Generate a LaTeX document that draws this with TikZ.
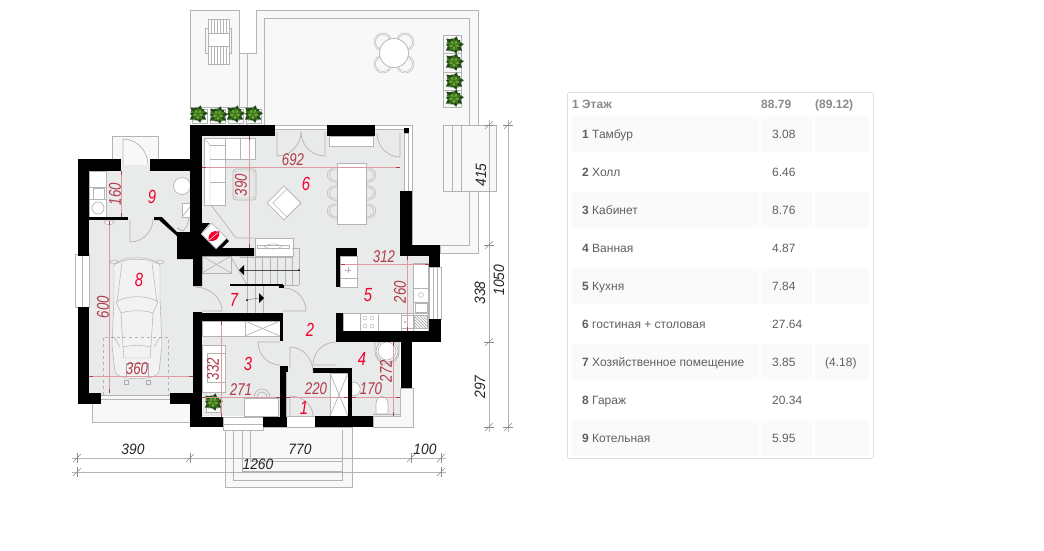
\documentclass[tikz,border=0pt]{standalone}
\usepackage{fontspec}
\setmainfont{Liberation Sans}
\newfontfamily\dimfont[FakeStretch=0.78]{Liberation Sans}
\newfontfamily\outerfont[FakeStretch=0.92]{Liberation Sans}
\usetikzlibrary{calc}
\definecolor{floorgray}{HTML}{E9EAEA}
\definecolor{terrace}{HTML}{F8F8F8}
\definecolor{linegray}{HTML}{B4B4B4}
\definecolor{dimred}{HTML}{DC9AA3}
\definecolor{dimtext}{HTML}{B23A4A}
\definecolor{roomred}{HTML}{F0002D}
\definecolor{tabletext}{HTML}{606060}
\definecolor{headtext}{HTML}{8A8A8A}
\definecolor{rowgray}{HTML}{FAFAFA}
\definecolor{leafdark}{HTML}{22491A}
\definecolor{leafmid}{HTML}{3F7420}
\definecolor{leaflight}{HTML}{6BA32F}
\tikzset{
  plan/.style={linegray, line width=0.7pt},
  thin plan/.style={linegray, line width=0.45pt},
  carline/.style={draw=black!32, line width=0.45pt},
  wall/.style={fill=black, draw=none},
  dim/.style={dimred, line width=0.6pt},
  dimtick/.style={dimtext, line width=1pt},
  dimlabel/.style={text=dimtext, font=\dimfont\fontsize{17}{17}\selectfont\itshape, inner sep=0pt},
  outerlabel/.style={text=black!85, font=\outerfont\fontsize{15}{15}\selectfont\itshape, inner sep=0pt},
  roomlabel/.style={text=roomred, font=\dimfont\fontsize{19}{19}\selectfont\itshape, inner sep=0pt},
  cell/.style={text=tabletext, font=\fontsize{12}{12}\selectfont, inner sep=0pt, anchor=base west},
  headcell/.style={text=headtext, font=\fontsize{12}{12}\selectfont\bfseries, inner sep=0pt, anchor=base west},
}
\newcommand{\doorpic}[4]{\draw[plan] (#1) -- (#2) .. controls ($(#2)!.55!(#3)$) and ($(#4)!.55!(#3)$) .. (#4);}
\newcommand{\dimpic}[2]{
  \draw[dim] (#1) -- (#2);
  \draw[dimtick] (#1) -- ($(#1)!4pt!(#2)$);
  \draw[dimtick] (#2) -- ($(#2)!4pt!(#1)$);
}
\newcommand{\plantpic}[2]{
  \foreach \a/\l in {5/10,38/8,72/9,110/7,140/10,178/8,215/10,250/7,285/9,325/10} {
    \fill[leafdark, shift={(#1,#2)}, rotate=\a] (0,0) -- (4,-3.6) -- (\l,0) -- (4,3.6) -- cycle;
  }
  \foreach \a/\l in {20/8,90/7,160/8,235/8,305/8} {
    \fill[leafmid, shift={(#1,#2)}, rotate=\a] (0,0) -- (3,-2.2) -- (\l,0) -- (3,2.2) -- cycle;
  }
  \foreach \a/\l in {55/6,125/5,195/6,270/6,345/6} {
    \fill[leaflight, shift={(#1,#2)}, rotate=\a] (1,0) -- (3,-1.3) -- (\l,0) -- (3,1.3) -- cycle;
  }
}
\newcommand{\chairpic}[3]{
  \draw[thin plan, shift={(#1,#2)}, rotate=#3] (0,-7.5) .. controls (-13,-7.5) and (-13,7.5) .. (0,7.5);
  \draw[thin plan, shift={(#1,#2)}, rotate=#3] (0,-6) .. controls (-10,-6) and (-10,6) .. (0,6);
}
\begin{document}
\begin{tikzpicture}[x=1pt,y=-1pt]
\useasboundingbox (0,0) rectangle (1044,550);
\fill[white] (0,0) rectangle (1044,550);

% terrace
\filldraw[plan, fill=terrace] (190,10) rectangle (239,107);
\filldraw[plan, fill=terrace] (239,53) -- (256,53) -- (256,10) -- (478,10) -- (478,253) -- (440,253) -- (440,245) -- (412,245) -- (412,125) -- (239,125) -- cycle;
\draw[plan] (264,125) -- (264,18) -- (469,18) -- (469,245) -- (440,245);
\draw[plan] (247,53) -- (247,125);
\draw[plan] (190,107) -- (256,107);
\filldraw[plan, fill=terrace] (443,125) rectangle (496,191);
\draw[plan] (452,125) -- (452,191);
\draw[plan] (461,125) -- (461,191);
\filldraw[plan, fill=terrace] (112,136) rectangle (158,165);
\filldraw[plan, fill=terrace] (92,395) -- (92,422) -- (190,422) -- (190,395) -- cycle;
\filldraw[plan, fill=terrace] (225,427) -- (225,487) -- (352,487) -- (352,427) -- cycle;
\draw[plan] (233,430) -- (233,480) -- (342,480) -- (342,430);
\draw[plan] (242,430) -- (242,471) -- (342,471);
\draw[plan] (250,430) -- (250,461) -- (342,461);
\filldraw[plan, fill=terrace] (373,427) -- (413,427) -- (413,388) -- (400,388) -- (400,416) -- (373,416) -- cycle;

% sun lounger, round table
\draw[plan] (205.5,28) rectangle (208,53);
\draw[plan] (229,28) rectangle (231.5,53);
\filldraw[plan, fill=white] (208,19) rectangle (229,64);
\foreach \x in {211,214,...,226} {
  \draw[thin plan] (\x,19) -- (\x,33);
  \draw[thin plan] (\x,46) -- (\x,64);
}
\draw[plan] (208,33) -- (229,33);
\draw[plan] (208,46) -- (229,46);
\foreach \x/\y in {383/42,405/42,383/64,405/64} {
  \draw[thin plan] (\x,\y) circle (9);
  \draw[thin plan] (\x,\y) circle (7.5);
}
\filldraw[plan, fill=white] (394,53) circle (14.5);

% floors
\fill[floorgray] (89,165) rectangle (193,395);
\fill[floorgray] (193,130) -- (404,130) -- (404,256) -- (435,256) -- (435,331) -- (343,331) -- (343,342) -- (400,342) -- (400,416) -- (193,416) -- cycle;

% windows and openings
\filldraw[plan, fill=white] (75,254) rectangle (89,307);
\draw[plan] (82,254) -- (82,307);
\draw[plan] (101,395) -- (170,395);
\draw[plan] (101,399) -- (170,399);
\filldraw[plan, fill=white] (404.5,133) rectangle (408.5,191);
\filldraw[plan, fill=white] (429,267) rectangle (441,319);
\draw[plan] (433,267) -- (433,319);
\draw[plan] (437,267) -- (437,319);
\filldraw[plan, fill=white] (223,417) rectangle (263,430);
\draw[plan] (223,424) -- (263,424);
\draw[plan] (275,129.5) -- (404,129.5);
\filldraw[plan, fill=white] (329,136) rectangle (373,146);
\draw[plan] (286,368) -- (286,416);
\draw[plan] (286,416) -- (315,416);

% living room
\filldraw[plan, fill=white] (204,138) -- (255,138) -- (255,159) -- (225,159) -- (225,205) -- (204,205) -- cycle;
\draw[thin plan] (204,138) -- (210,145) -- (210,205);
\draw[thin plan] (210,145) -- (225,145);
\draw[thin plan] (225,138) -- (225,159);
\draw[thin plan] (210,159) -- (225,159);
\draw[thin plan] (210,182) -- (225,182);
\draw[thin plan] (240,138) -- (240,159);
\filldraw[plan, fill=floorgray, rounded corners=3pt] (233,169) rectangle (256,200);
\draw[thin plan, rounded corners=2pt] (235,171) rectangle (254,198);
\filldraw[plan, fill=white, rotate around={45:(284,203)}] (272,191) rectangle (296,215);
\draw[thin plan, rotate around={45:(284,203)}] (276,195) rectangle (296,215);
\filldraw[plan, fill=white] (337,163) rectangle (366,224);
\foreach \y in {175,193,211} {
  \chairpic{337}{\y}{0}
  \chairpic{366}{\y}{180}
}
\draw[plan] (211,205) -- (236,238) -- (255,238);
\filldraw[plan, fill=white] (255,238) rectangle (293,256);
\draw[thin plan] (257,245) rectangle (289,248);
\draw[thin plan] (264,246.5) .. controls (270,243) and (276,243) .. (282,246.5);
\draw[thin plan] (264,246.5) .. controls (270,250) and (276,250) .. (282,246.5);

% stairs
\draw[plan] (202,256) rectangle (231,273);
\draw[plan] (202,256) -- (231,273);
\draw[plan] (202,273) -- (231,256);
\draw[plan] (231,257) -- (247,285);
\draw[plan] (240,257) -- (292,257);
\draw[plan] (247,285) -- (299,285);
\draw[plan] (292,248) -- (299,248) -- (299,285);
\foreach \x in {247,255,262,270,277,285,292} {
  \draw[plan] (\x,256) -- (\x,285);
}
\foreach \x in {247,255,263} {
  \draw[plan] (\x,285) -- (\x,313);
}
\draw[line width=1.3pt] (230,285) -- (283,285);
\fill[black] (244,265) -- (239,270) -- (244,275) -- cycle;
\fill[black] (259,293) -- (264,298) -- (259,303) -- cycle;
\draw[black!70, line width=0.3pt] (244,270) -- (299,270);
\draw[black!70, line width=0.3pt] (247,300) -- (259,298);
\fill[black] (299,270) circle (1);
\fill[black] (247,300) circle (1);
\fill[black] (279,285) rectangle (284,288);

% garage side: utility room 9
\filldraw[plan, fill=white] (89,171) rectangle (106,217);
\draw[plan] (89,187) -- (106,187);
\draw[thin plan] (93,188) rectangle (104,199);
\draw[plan] (89,199) -- (106,199);
\draw[plan] (98,208) circle (6);
\filldraw[plan, fill=white] (182,186) circle (8.5);
\filldraw[plan, fill=white] (182,203) rectangle (193,217);
\draw[plan] (182,217) -- (193,203);
\draw[plan] (189,217) .. controls (188,226) and (186,228) .. (183,231);
\draw[plan] (183,231) -- (177,228);
\filldraw[plan, fill=white] (104,221) .. controls (104,226) and (114,226) .. (114,221) -- cycle;

% car
\filldraw[carline, fill=floorgray!60!white] (114,266) .. controls (118,255) and (156,255) .. (160,266) -- (160,300) -- (162,345) -- (159,372) .. controls (156,381) and (118,381) .. (115,372) -- (112,345) -- (114,300) -- cycle;
\draw[carline] (118,263) .. controls (128,258) and (146,258) .. (156,263);
\draw[carline] (122,263) -- (117,302);
\draw[carline] (152,263) -- (157,302);
\draw[carline] (114,262) ellipse (4 and 2);
\draw[carline] (160,262) ellipse (4 and 2);
\draw[carline] (116,302) .. controls (126,295) and (148,295) .. (158,302) -- (153,313) .. controls (145,310) and (129,310) .. (121,313) -- cycle;
\draw[carline] (121,313) -- (123,347) -- (124,358) -- (150,358) -- (151,347) -- (153,313);
\draw[carline] (123,347) .. controls (130,345) and (144,345) .. (151,347);
\draw[carline] (114,337) -- (120,347);
\draw[carline] (160,337) -- (154,347);
\draw[carline] (126,363) rectangle (148,376);
\draw[carline] (124,380) rectangle (128,384);
\draw[carline] (146,380) rectangle (150,384);
\draw[plan, dashed, line width=0.5pt] (103,395) -- (103,337) -- (168,337) -- (168,395);

% room 3
\filldraw[plan, fill=white] (202,321) rectangle (280,336);
\draw[plan] (245,321) rectangle (280,336);
\draw[plan] (245,321) -- (280,336);
\draw[plan] (245,336) -- (280,321);
\filldraw[plan, fill=white] (202,345) rectangle (225,392);
\draw[plan] (207,353) rectangle (225,382);
\filldraw[plan, fill=white] (206,397) rectangle (220,412);
\filldraw[plan, fill=white] (244,398) rectangle (278,416);
\draw[plan] (254,398) .. controls (254,386) and (270,386) .. (270,398);
\draw[plan] (257,398) .. controls (257,390) and (267,390) .. (267,398);

% kitchen
\filldraw[plan, fill=white] (340,256) rectangle (357,287);
\draw[plan] (340,278) -- (357,278);
\draw[thin plan] (345,270) -- (351,270);
\draw[thin plan] (348,267) -- (348,273);
\filldraw[plan, fill=white] (343,313) rectangle (428,331);
\draw[plan] (360,313) -- (360,331);
\draw[plan] (378,313) -- (378,331);
\draw[plan] (401,313) -- (401,331);
\foreach \x in {365,372} {
  \draw[thin plan] (\x,318) circle (2);
  \draw[thin plan] (\x,326) circle (2);
}
\filldraw[plan, fill=white] (413,263) rectangle (428,331);
\draw[plan] (413,288) -- (428,288);
\draw[plan] (413,302) -- (428,302);
\draw[plan] (413,313) -- (428,313);
\draw[thin plan] (421,295) circle (2.5);
\draw[thin plan] (415,303.5) rectangle (427,312);
\draw[plan] (401,315) rectangle (413,328);
\fill[black!50] (405,322) circle (0.8);
\begin{scope}
\clip (414,315) rectangle (427,328);
\foreach \d in {0,3,...,27} {
  \draw[thin plan, draw=black!40] (414+\d,328) -- (414+\d-14,314);
}
\end{scope}
\draw[plan] (414,315) rectangle (427,328);

% bathroom
\filldraw[plan, fill=floorgray] (375,342) -- (375,351) .. controls (375,368) and (399,368) .. (399,351) -- (399,342) -- cycle;
\filldraw[plan, fill=white] (387,351) circle (11);
\draw[plan] (387,351) circle (9);
\filldraw[plan, fill=white] (376,414) -- (376,404) .. controls (376,394) and (388,394) .. (388,404) -- (388,414) -- cycle;
\draw[plan] (373,414) -- (401,414);
\filldraw[plan, fill=white] (330,373) rectangle (348,416);
\draw[plan] (330,373) -- (348,416);
\draw[plan] (330,416) -- (348,373);
\filldraw[plan, fill=white] (352,382) .. controls (363,382) and (363,396) .. (352,396) -- cycle;

% walls
\fill[wall] (78,159) rectangle (121,171);
\fill[wall] (78,159) rectangle (89,256);
\fill[wall] (150,159) rectangle (202,171);
\fill[wall] (190,125) rectangle (275,136);
\fill[wall] (190,125) rectangle (202,232);
\fill[wall] (89,217) rectangle (128,220);
\fill[wall] (154,217) -- (162,217) -- (177,232) -- (202,232) -- (202,235) -- (216,248) -- (226,238) -- (229,241) -- (222,248) -- (254,248) -- (254,256) -- (202,256) -- (202,286) -- (193,286) -- (193,259) -- (177,259) -- (177,236) -- (159,220) -- (154,220) -- cycle;
\fill[wall] (202,223) -- (210,223) -- (202,232) -- cycle;
\fill[wall] (327,125) rectangle (375,136);
\fill[wall] (404,128) rectangle (409,133);
\fill[wall] (400,191) rectangle (412,256);
\fill[wall] (400,245) rectangle (440,256);
\fill[wall] (429,245) rectangle (440,267);
\fill[wall] (336,248) rectangle (357,256);
\fill[wall] (336,248) rectangle (340,287);
\fill[wall] (78,307) rectangle (89,404);
\fill[wall] (78,393) rectangle (101,404);
\fill[wall] (170,393) rectangle (202,404);
\fill[wall] (193,312) rectangle (202,427);
\fill[wall] (190,393) rectangle (202,427);
\fill[wall] (190,417) rectangle (223,427);
\fill[wall] (193,313) rectangle (283,321);
\fill[wall] (280,313) rectangle (283,341);
\fill[wall] (280,368) rectangle (286,427);
\fill[wall] (280,366) rectangle (288,372);
\fill[wall] (263,417) rectangle (287,427);
\fill[wall] (336,313) rectangle (343,342);
\fill[wall] (336,331) rectangle (441,342);
\fill[wall] (429,319) rectangle (441,342);
\fill[wall] (401,342) rectangle (412,388);
\fill[wall] (313,368) rectangle (352,373);
\fill[wall] (348,368) rectangle (352,416);
\fill[wall] (315,416) rectangle (373,427);

% fireplace
\filldraw[plan, fill=white, rotate around={-45:(214,236)}] (203.5,228.5) rectangle (224.5,243.5);
\fill[roomred, shift={(214,236)}, rotate=40] (-7,0) .. controls (-3,-6.5) and (3,-5.5) .. (7,0) .. controls (3,5.5) and (-3,6) .. (-7,0) -- cycle;
\draw[white, line width=0.5pt, shift={(214,236)}, rotate=40] (-6,0) -- (5,0);

% doors
\doorpic{123,165}{123,139}{148,139}{148,165}
\doorpic{130,220}{130,242}{153,242}{153,219}
\doorpic{277,132}{277,156}{301,156}{301,132}
\doorpic{325,132}{325,156}{301,156}{301,132}
\doorpic{400,133}{400,157}{377,157}{377,133}
\doorpic{202,311}{222,311}{222,287}{195,287}
\doorpic{283,311}{306,311}{306,288}{284,288}
\doorpic{280,342}{258,342}{258,365}{280,365}
\doorpic{290,368}{290,347}{313,347}{313,372}
\doorpic{336,365}{313,365}{313,342}{336,342}
\doorpic{290,416}{290,396}{313,396}{313,416}

% plants
\foreach \x in {192,210,228,246} {
  \filldraw[plan, fill=white] (\x,109) rectangle (\x+15,123);
}
\plantpic{198}{114}
\plantpic{218}{115}
\plantpic{235}{114}
\plantpic{253}{114}
\draw[plan] (443,35) rectangle (461,107);
\draw[plan] (443,53) -- (461,53);
\draw[plan] (443,72) -- (461,72);
\draw[plan] (443,90) -- (461,90);
\plantpic{454}{45}
\plantpic{454}{62}
\plantpic{454}{81}
\plantpic{454}{98}
\plantpic{213}{402}

% red dimension lines
\dimpic{202,167}{400,167}
\dimpic{249,136}{249,248}
\dimpic{121,171}{121,217}
\dimpic{341,264}{429,264}
\dimpic{407,256}{407,331}
\dimpic{109,221}{109,393}
\dimpic{89,376}{193,376}
\dimpic{221,321}{221,417}
\dimpic{202,397}{280,397}
\dimpic{286,397}{348,397}
\dimpic{352,397}{400,397}
\dimpic{393,342}{393,416}

\node[dimlabel] (lab692) at (293,160) {692};
\node[dimlabel, rotate=90] (lab390) at (241,185) {390};
\node[dimlabel, rotate=90] (lab160) at (115,194) {160};
\node[dimlabel] (lab312) at (384,257) {312};
\node[dimlabel, rotate=90] (lab260) at (400,292) {260};
\node[dimlabel, rotate=90] (lab600) at (103,307) {600};
\node[dimlabel] (lab360) at (137,369) {360};
\node[dimlabel, rotate=90] (lab332) at (213,369) {332};
\node[dimlabel] (lab271) at (241,390) {271};
\node[dimlabel] (lab220) at (316,389) {220};
\node[dimlabel] (lab170) at (371,389) {170};
\node[dimlabel, rotate=90] (lab272) at (386,371) {272};

\node[roomlabel] (room1) at (304,408) {1};
\node[roomlabel] (room2) at (310,330) {2};
\node[roomlabel] (room3) at (248,364) {3};
\node[roomlabel] (room4) at (362,359) {4};
\node[roomlabel] (room5) at (368,295) {5};
\node[roomlabel] (room6) at (306,184) {6};
\node[roomlabel] (room7) at (234,300) {7};
\node[roomlabel] (room8) at (139,280) {8};
\node[roomlabel] (room9) at (152,197) {9};

% outer dimensions
\coordinate (dima) at (77,458);
\coordinate (dimb) at (190,458);
\coordinate (dimc) at (411,458);
\coordinate (dimd) at (441,458);
\coordinate (dime) at (77,472);
\coordinate (dimf) at (441,472);
\coordinate (dimg) at (489,125);
\coordinate (dimh) at (489,245);
\coordinate (dimi) at (489,342);
\coordinate (dimj) at (489,427);
\coordinate (dimk) at (508,125);
\coordinate (diml) at (508,427);
\draw[plan] (72,458) -- (446,458);
\draw[plan] (72,472) -- (446,472);
\draw[plan] (489,120) -- (489,432);
\draw[plan] (508,120) -- (508,432);
\foreach \p in {dima,dimb,dimc,dimd,dime,dimf,dimg,dimh,dimi,dimj,dimk,diml} {
  \draw[black!45, line width=0.5pt] ($(\p)+(-4,4)$) -- ($(\p)+(4,-4)$);
}
\foreach \p in {dima,dimb,dimc,dimd,dime,dimf} {
  \draw[black!45, line width=0.5pt] ($(\p)+(0,-5)$) -- ($(\p)+(0,5)$);
}
\foreach \p in {dimg,dimh,dimi,dimj,dimk,diml} {
  \draw[black!45, line width=0.5pt] ($(\p)+(-5,0)$) -- ($(\p)+(5,0)$);
}
\node[outerlabel] (out390) at (133,449) {390};
\node[outerlabel] (out770) at (300,449) {770};
\node[outerlabel] (out100) at (425,449) {100};
\node[outerlabel] (out1260) at (258,464) {1260};
\node[outerlabel, rotate=90] (out415) at (481,175) {415};
\node[outerlabel, rotate=90] (out338) at (480,293) {338};
\node[outerlabel, rotate=90] (out297) at (480,387) {297};
\node[outerlabel, rotate=90] (out1050) at (499,280) {1050};

% table
\filldraw[draw=black!13, fill=white, rounded corners=2pt, line width=0.7pt] (567.5,92.5) rectangle (873.5,458.5);
\node[headcell] (head) at (572,108) {1 Этаж};
\node[headcell] (headarea) at (761,108) {88.79};
\node[headcell] (headfull) at (815,108) {(89.12)};
\foreach \n/\y in {1/134,3/210,5/286,7/362,9/438} {
  \fill[rowgray] (572,\y-18) rectangle (759,\y+18);
  \fill[rowgray] (761,\y-18) rectangle (813,\y+18);
  \fill[rowgray] (815,\y-18) rectangle (869,\y+18);
}
\foreach \n/\y/\t/\v in {1/134/Тамбур/3.08,2/172/Холл/6.46,3/210/Кабинет/8.76,4/248/Ванная/4.87,5/286/Кухня/7.84,6/324/гостиная + столовая/27.64,7/362/Хозяйственное помещение/3.85,8/400/Гараж/20.34,9/438/Котельная/5.95} {
  \node[cell] (row\n) at (582,\y+4) {\textbf{\n} \t};
  \node[cell] (val\n) at (772,\y+4) {\v};
}
\node[cell] (valfull) at (825,366) {(4.18)};
\end{tikzpicture}
\end{document}
